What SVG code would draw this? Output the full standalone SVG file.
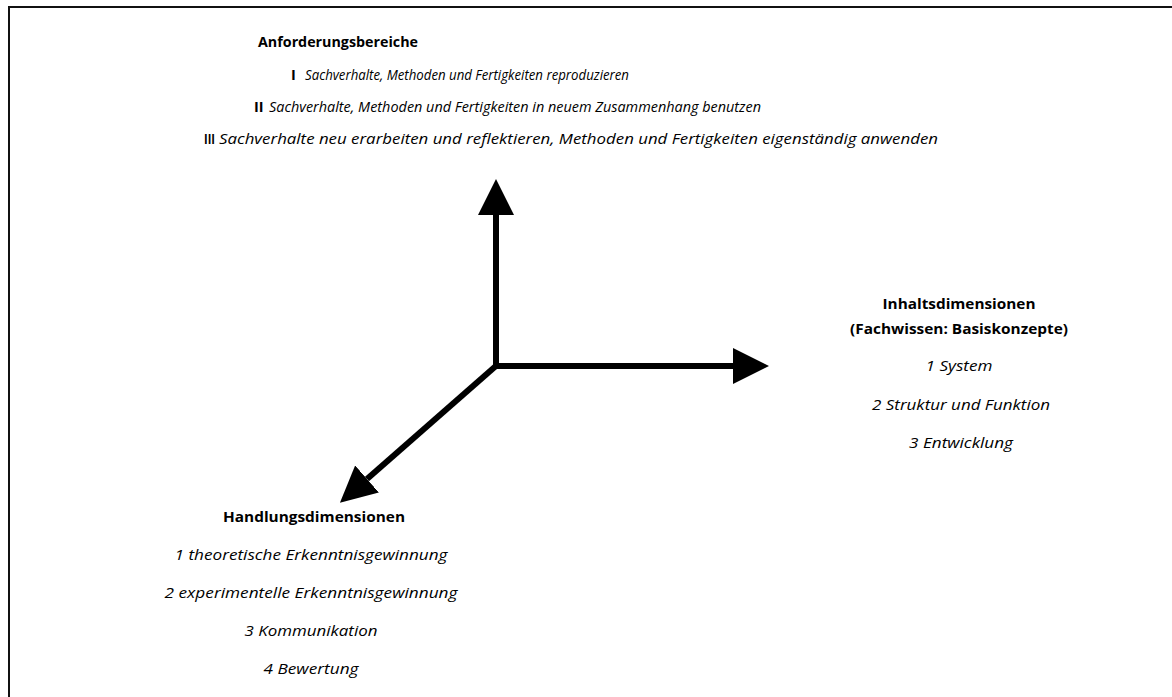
<svg xmlns="http://www.w3.org/2000/svg" width="1172" height="697" viewBox="0 0 1172 697">
<style>
text{font-family:"Open Sans","Noto Sans","Liberation Sans",sans-serif;font-size:14.5px;fill:#000}
.b{font-weight:bold}
.i{font-style:italic}
.m{text-anchor:middle}
.ax{stroke:#000;stroke-width:6;fill:none}
</style>
<defs>
<marker id="ah" viewBox="0 0 36 36" markerWidth="36" markerHeight="36" refX="0" refY="18" orient="auto" markerUnits="userSpaceOnUse">
<path d="M0,0 L36,18 L0,36 z" fill="#000"/>
</marker>
</defs>
<rect x="9" y="7" width="1180" height="710" fill="none" stroke="#111" stroke-width="2"/>
<g id="connectors">
<line class="ax" x1="496" y1="369" x2="496" y2="215" marker-end="url(#ah)"/>
<line class="ax" x1="493" y1="366" x2="733" y2="366" marker-end="url(#ah)"/>
<line class="ax" x1="497" y1="365" x2="367" y2="479" marker-end="url(#ah)"/>
</g>
<g id="anforderungsbereiche">
<text class="b m" x="338" y="47" textLength="160" lengthAdjust="spacingAndGlyphs">Anforderungsbereiche</text>
<text class="b" x="291" y="80">I</text>
<text class="i" x="305" y="80" textLength="324" lengthAdjust="spacingAndGlyphs">Sachverhalte, Methoden und Fertigkeiten reproduzieren</text>
<text class="b" x="254" y="112">II</text>
<text class="i" x="269" y="112" textLength="492" lengthAdjust="spacingAndGlyphs">Sachverhalte, Methoden und Fertigkeiten in neuem Zusammenhang benutzen</text>
<text class="b" x="204" y="144" textLength="11" lengthAdjust="spacingAndGlyphs">III</text>
<text class="i" x="219" y="144" textLength="719" lengthAdjust="spacingAndGlyphs">Sachverhalte neu erarbeiten und reflektieren, Methoden und Fertigkeiten eigenständig anwenden</text>
</g>
<g id="inhaltsdimensionen">
<text class="b m" x="959" y="309" textLength="153" lengthAdjust="spacingAndGlyphs">Inhaltsdimensionen</text>
<text class="b m" x="959" y="334" textLength="218" lengthAdjust="spacingAndGlyphs">(Fachwissen: Basiskonzepte)</text>
<text class="i m" x="959" y="371" textLength="67" lengthAdjust="spacingAndGlyphs">1 System</text>
<text class="i m" x="961" y="410" textLength="178" lengthAdjust="spacingAndGlyphs">2 Struktur und Funktion</text>
<text class="i m" x="961" y="448" textLength="104" lengthAdjust="spacingAndGlyphs">3 Entwicklung</text>
</g>
<g id="handlungsdimensionen">
<text class="b m" x="314" y="522" textLength="182" lengthAdjust="spacingAndGlyphs">Handlungsdimensionen</text>
<text class="i m" x="311" y="560" textLength="273" lengthAdjust="spacingAndGlyphs">1 theoretische Erkenntnisgewinnung</text>
<text class="i m" x="311" y="598" textLength="293" lengthAdjust="spacingAndGlyphs">2 experimentelle Erkenntnisgewinnung</text>
<text class="i m" x="311" y="636" textLength="133" lengthAdjust="spacingAndGlyphs">3 Kommunikation</text>
<text class="i m" x="311" y="674" textLength="95" lengthAdjust="spacingAndGlyphs">4 Bewertung</text>
</g>
</svg>
